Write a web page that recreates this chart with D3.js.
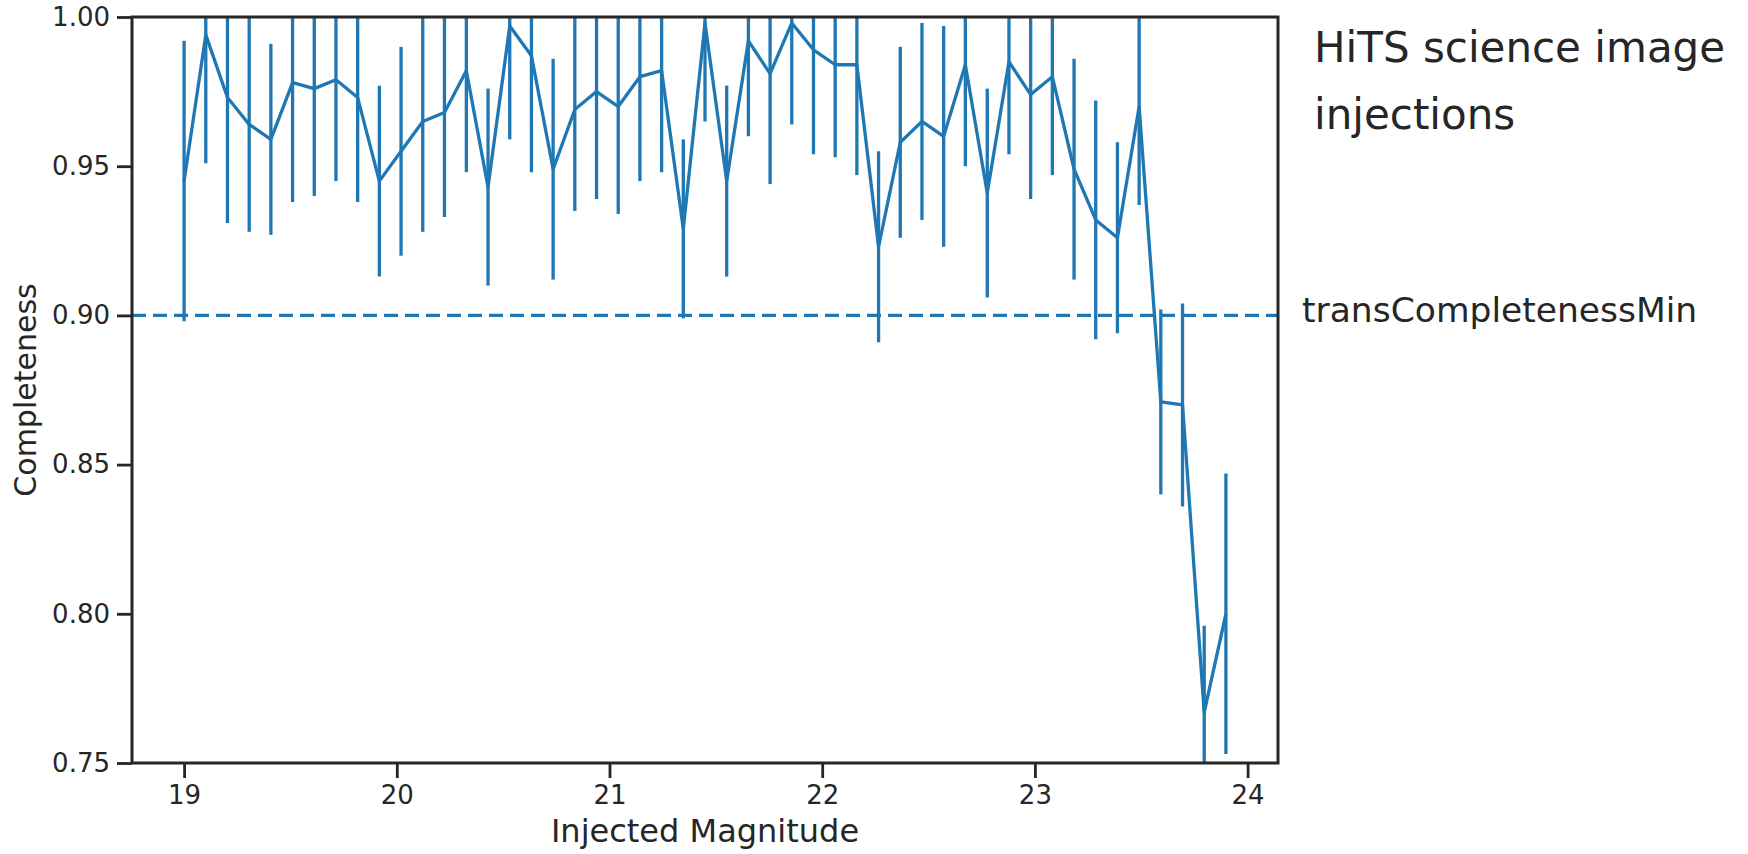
<!DOCTYPE html>
<html>
<head>
<meta charset="utf-8">
<script src="https://cdn.jsdelivr.net/npm/d3@7"></script>
<style>
  html, body { margin: 0; padding: 0; background: #ffffff; }
  svg { display: block; }
  text { font-family: "DejaVu Sans", sans-serif; fill: #262626; }
</style>
</head>
<body>
<svg id="chart" width="1748" height="854"></svg>
<script>
// ---- data ----
const magnitudes = [
  19.000, 19.102, 19.204, 19.306, 19.408, 19.510, 19.612, 19.714, 19.816, 19.918,
  20.020, 20.122, 20.224, 20.327, 20.429, 20.531, 20.633, 20.735, 20.837, 20.939,
  21.041, 21.143, 21.245, 21.347, 21.449, 21.551, 21.653, 21.755, 21.857, 21.959,
  22.061, 22.163, 22.265, 22.367, 22.469, 22.571, 22.673, 22.776, 22.878, 22.980,
  23.082, 23.184, 23.286, 23.388, 23.490, 23.592, 23.694, 23.796, 23.898
];
const completeness = [
  0.945, 0.994, 0.973, 0.964, 0.959, 0.978, 0.976, 0.979, 0.973, 0.945,
  0.955, 0.965, 0.968, 0.982, 0.943, 0.997, 0.987, 0.949, 0.969, 0.975,
  0.970, 0.980, 0.982, 0.929, 0.998, 0.945, 0.992, 0.981, 0.998, 0.989,
  0.984, 0.984, 0.923, 0.958, 0.965, 0.960, 0.984, 0.941, 0.985, 0.974,
  0.980, 0.949, 0.932, 0.926, 0.970, 0.871, 0.870, 0.767, 0.800
];
const errors = [
  0.047, 0.043, 0.042, 0.036, 0.032, 0.040, 0.036, 0.034, 0.035, 0.032,
  0.035, 0.037, 0.035, 0.034, 0.033, 0.038, 0.039, 0.037, 0.034, 0.036,
  0.036, 0.035, 0.034, 0.030, 0.033, 0.032, 0.032, 0.037, 0.034, 0.035,
  0.031, 0.037, 0.032, 0.032, 0.033, 0.037, 0.034, 0.035, 0.031, 0.035,
  0.033, 0.037, 0.040, 0.032, 0.033, 0.031, 0.034, 0.029, 0.047
];
const xTicks = [19, 20, 21, 22, 23, 24];
const yTicks = [0.75, 0.80, 0.85, 0.90, 0.95, 1.00];
const threshold = 0.90;
const thresholdLabel = "transCompletenessMin";
const titleLines = ["HiTS science image", "injections"];
const xLabel = "Injected Magnitude";
const yLabel = "Completeness";

// ---- layout ----
const blue = "#1f77b4";
const ink = "#262626";
const plot = { left: 132, right: 1278, top: 17, bottom: 763 };
const lw = 3.3;

const svg = d3.select("#chart");

const xMin = d3.min(magnitudes), xMax = d3.max(magnitudes);
const pad = (xMax - xMin) * 0.05;
const x = d3.scaleLinear().domain([xMin - pad, xMax + pad]).range([plot.left, plot.right]);
const y = d3.scaleLinear().domain([0.75, 1.00]).range([plot.bottom, plot.top]);

const data = magnitudes.map((m, i) => ({ m, c: completeness[i], e: errors[i] }));

svg.append("defs").append("clipPath").attr("id", "clip")
  .append("rect")
  .attr("x", plot.left).attr("y", plot.top)
  .attr("width", plot.right - plot.left).attr("height", plot.bottom - plot.top);

const g = svg.append("g").attr("clip-path", "url(#clip)");

// threshold line
g.append("line")
  .attr("x1", plot.left).attr("x2", plot.right)
  .attr("y1", y(threshold)).attr("y2", y(threshold))
  .attr("stroke", blue).attr("stroke-width", lw)
  .attr("stroke-dasharray", "14 7");

// error bars
g.selectAll("line.err").data(data).join("line")
  .attr("class", "err")
  .attr("x1", d => x(d.m)).attr("x2", d => x(d.m))
  .attr("y1", d => y(d.c - d.e)).attr("y2", d => y(d.c + d.e))
  .attr("stroke", blue).attr("stroke-width", lw);

// main line
g.append("path").datum(data)
  .attr("fill", "none").attr("stroke", blue).attr("stroke-width", lw)
  .attr("stroke-linejoin", "round").attr("stroke-linecap", "butt")
  .attr("d", d3.line().x(d => x(d.m)).y(d => y(d.c)));

// axes
const xAxis = svg.append("g").attr("transform", `translate(0,${plot.bottom})`)
  .call(d3.axisBottom(x).tickValues(xTicks).tickFormat(d3.format("d")).tickSize(15).tickPadding(8));
const yAxis = svg.append("g").attr("transform", `translate(${plot.left},0)`)
  .call(d3.axisLeft(y).tickValues(yTicks).tickFormat(d3.format(".2f")).tickSize(15).tickPadding(7));

[xAxis, yAxis].forEach(a => {
  a.select(".domain").remove();
  a.selectAll(".tick line").attr("stroke", ink).attr("stroke-width", 2.8);
  a.selectAll(".tick text").attr("fill", ink).style("font-size", "26px")
    .style("font-family", "'DejaVu Sans', sans-serif");
});

// frame (spines)
svg.append("rect")
  .attr("x", plot.left).attr("y", plot.top)
  .attr("width", plot.right - plot.left).attr("height", plot.bottom - plot.top)
  .attr("fill", "none").attr("stroke", ink).attr("stroke-width", 3);

// axis labels
svg.append("text")
  .attr("x", (plot.left + plot.right) / 2).attr("y", 842)
  .attr("text-anchor", "middle").style("font-size", "32px")
  .text(xLabel);

svg.append("text")
  .attr("transform", `translate(36,${(plot.top + plot.bottom) / 2}) rotate(-90)`)
  .attr("text-anchor", "middle").style("font-size", "30px")
  .text(yLabel);

// threshold label
svg.append("text")
  .attr("x", 1302).attr("y", y(threshold) + 7)
  .style("font-size", "34.5px")
  .text(thresholdLabel);

// title text
svg.selectAll("text.title").data(titleLines).join("text")
  .attr("class", "title")
  .attr("x", 1314).attr("y", (d, i) => 62 + i * 67)
  .style("font-size", "42px")
  .text(d => d);
</script>
</body>
</html>
